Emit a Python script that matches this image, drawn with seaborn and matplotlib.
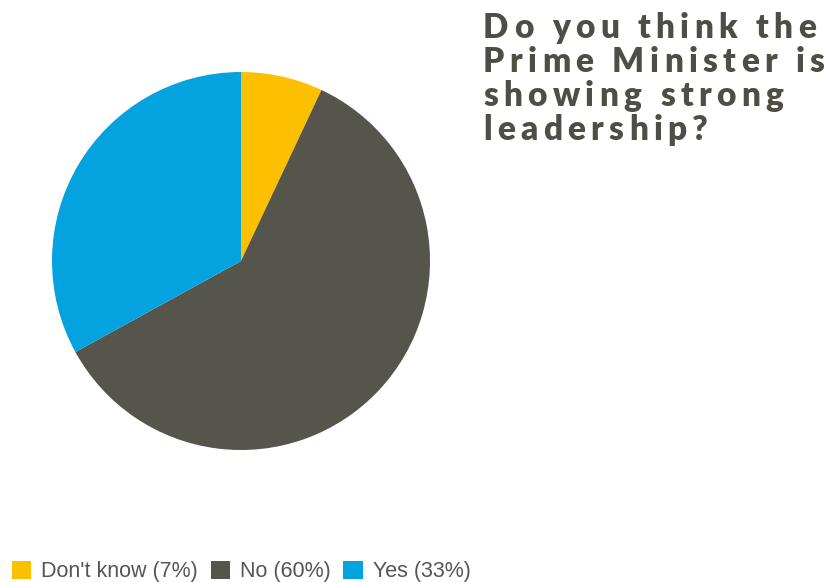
import matplotlib
matplotlib.use("Agg")
import matplotlib.pyplot as plt
import seaborn as sns
from matplotlib.patches import Patch

categories = ["Don't know", "No", "Yes"]
values = [7, 60, 33]
colors = ["#FDC000", "#55554B", "#04A3E0"]
title_lines = ["Do you think the", "Prime Minister is", "showing strong", "leadership?"]

sns.set_theme(style="white")
plt.rcParams["font.family"] = ["Liberation Sans", "DejaVu Sans"]

W, H = 826, 582
fig = plt.figure(figsize=(W / 100, H / 100), dpi=100)
fig.patch.set_facecolor("white")

cx, cy, r = 241, 261, 189
ax = fig.add_axes([(cx - r) / W, 1 - (cy + r) / H, 2 * r / W, 2 * r / H])
ax.pie(values, colors=sns.color_palette(colors), startangle=90, counterclock=False,
       wedgeprops=dict(linewidth=0))
ax.set_xlim(-1, 1)
ax.set_ylim(-1, 1)
ax.set_axis_off()

# Title with letter spacing, character by character
renderer = fig.canvas.get_renderer()
title_kw = dict(fontfamily="Lato", fontweight="heavy", fontsize=24, color="#4E4E46")


def text_width(s):
    t1 = fig.text(0, 0, s + "x", **title_kw)
    t2 = fig.text(0, 0, "x", **title_kw)
    w = t1.get_window_extent(renderer).width - t2.get_window_extent(renderer).width
    t1.remove(); t2.remove()
    return w


first = title_lines[0]
tracking = (333 - text_width(first)) / (len(first) - 1)
x0 = 483
baselines = [38, 72, 106, 140]
for line, yb in zip(title_lines, baselines):
    for i, ch in enumerate(line):
        pre_w = text_width(line[:i]) if i else 0
        fig.text((x0 + pre_w + i * tracking) / W, 1 - yb / H, ch, ha="left",
                 va="baseline", **title_kw)

handles = [Patch(facecolor=c, edgecolor="none") for c in colors]
labels = [f"{c} ({v}%)" for c, v in zip(categories, values)]
fig.legend(handles, labels, loc="lower left", bbox_to_anchor=(12 / W, 0), ncol=3,
           frameon=False, fontsize=15.5, handlelength=0.9, handleheight=0.9,
           handletextpad=0.45, columnspacing=0.6, labelcolor="#555555",
           borderaxespad=0.0, borderpad=0.0)

fig.savefig("out.png", dpi=100, facecolor="white")
